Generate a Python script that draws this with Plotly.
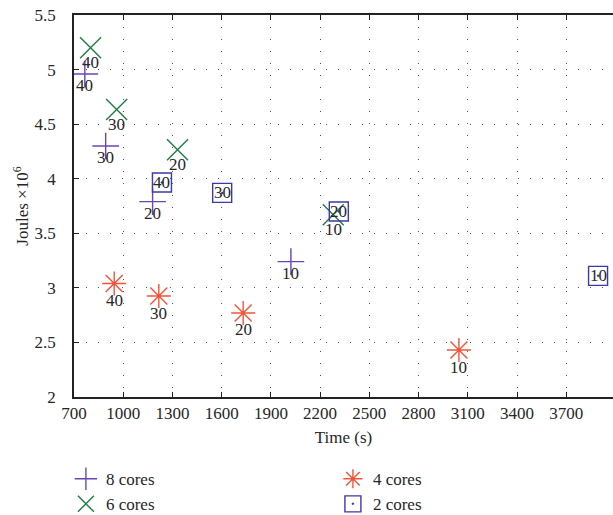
import plotly.graph_objects as go

# data
cores8_time = [766, 893, 1179, 2022]
cores8_joules = [4.96, 4.30, 3.79, 3.24]
cores8_labels = ["40", "30", "20", "10"]

cores6_time = [801, 960, 1331, 2280]
cores6_joules = [5.20, 4.635, 4.265, 3.67]
cores6_labels = ["40", "30", "20", "10"]

cores4_time = [945, 1217, 1731, 3046]
cores4_joules = [3.04, 2.925, 2.77, 2.43]
cores4_labels = ["40", "30", "20", "10"]

cores2_time = [1236, 1603, 2314, 3894]
cores2_joules = [3.965, 3.87, 3.70, 3.11]
cores2_labels = ["40", "30", "20", "10"]

x_ticks = [700, 1000, 1300, 1600, 1900, 2200, 2500, 2800, 3100, 3400, 3700]
y_ticks = [2, 2.5, 3, 3.5, 4, 4.5, 5, 5.5]

FONT = "Liberation Serif"
FS = 17
TXT = "#262626"
C8 = "#6a45b4"
C6 = "#1e7d40"
C4 = "#f2543a"
C2 = "#3d38a8"

fig = go.Figure()
series = [
    ("8 cores", cores8_time, cores8_joules, cores8_labels, "cross-thin", C8, 19, -12),
    ("4 cores", cores4_time, cores4_joules, cores4_labels, "asterisk", C4, 20, -17),
    ("6 cores", cores6_time, cores6_joules, cores6_labels, "x-thin", C6, 21, -15),
    ("2 cores", cores2_time, cores2_joules, cores2_labels, "square-open-dot", C2, 19, 0),
]
for name, xs, ys, labs, sym, col, size, shift in series:
    fig.add_trace(go.Scatter(
        x=xs, y=ys, mode="markers", name=name,
        marker=dict(symbol=sym, size=size, color=col,
                    line=dict(color=col, width=1.4)),
    ))
    for xv, yv, lab in zip(xs, ys, labs):
        fig.add_annotation(x=xv, y=yv, text=lab, showarrow=False,
                           yshift=shift, font=dict(family=FONT, size=FS, color=TXT))

axis_common = dict(
    showline=True, linecolor="#222", linewidth=1.5, mirror="ticks",
    ticks="inside", ticklen=5, tickcolor="#222",
    showgrid=True, gridcolor="#555", griddash="1px,11px", gridwidth=1,
    zeroline=False, tickfont=dict(family=FONT, size=FS, color=TXT),
)
fig.update_xaxes(range=[700, 3985], tickvals=x_ticks,
                 title=dict(text="Time (s)", font=dict(family=FONT, size=FS, color=TXT), standoff=9),
                 **axis_common)
axis_y = dict(axis_common)
axis_y["mirror"] = False
fig.update_yaxes(range=[2, 5.5], tickvals=y_ticks,
                 title=dict(text="Joules ×10<sup>6</sup>", font=dict(family=FONT, size=FS, color=TXT), standoff=2),
                 ticklabelstandoff=13,
                 **axis_y)

fig.update_layout(
    width=613, height=515,
    margin=dict(l=74, r=0, t=15, b=118, autoexpand=False),
    plot_bgcolor="white", paper_bgcolor="white",
    legend=dict(orientation="h", x=-0.015, y=-0.168, xanchor="left", yanchor="top",
                entrywidth=222, entrywidthmode="pixels",
                font=dict(family=FONT, size=FS, color=TXT)),
    font=dict(family=FONT),
)
fig.write_html("out.html")
